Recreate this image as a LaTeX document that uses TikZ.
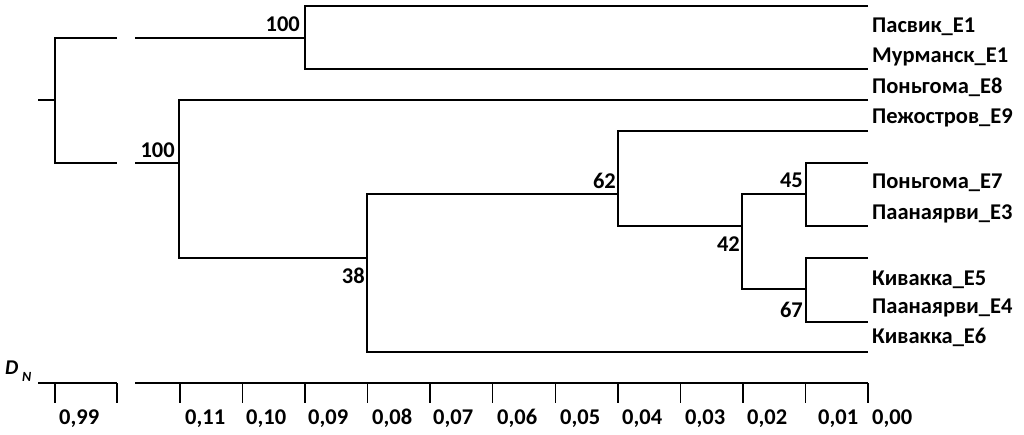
\documentclass[tikz,border=0pt]{standalone}
\usepackage{fontspec}
\setmainfont{Carlito}
\begin{document}
\begin{tikzpicture}[x=1pt,y=-1pt,
  br/.style={draw=black,line width=1.4pt},
  leaf/.style={anchor=base west,inner sep=0pt,font=\fontsize{22.5}{26}\selectfont\bfseries},
  boot/.style={anchor=base east,inner sep=0pt,font=\fontsize{22.5}{26}\selectfont\bfseries},
  tick/.style={anchor=base west,inner sep=0pt,font=\fontsize{22.5}{26}\selectfont\bfseries}]
\useasboundingbox (0,0) rectangle (1024,434);
% leaf ends
\coordinate (l1) at (868,6);
\coordinate (l2) at (868,69);
\coordinate (l3) at (868,100);
\coordinate (l4) at (868,131);
\coordinate (l5) at (868,163);
\coordinate (l6) at (868,226);
\coordinate (l7) at (868,258);
\coordinate (l8) at (868,322);
\coordinate (l9) at (868,352);
% internal nodes
\coordinate (r0) at (38,100);
\coordinate (r) at (55,100);
\coordinate (bA1) at (117,38);
\coordinate (bA2) at (135,38);
\coordinate (bB1) at (117,163);
\coordinate (bB2) at (135,163);
\coordinate (n1) at (305,38);
\coordinate (n2) at (179,163);
\coordinate (n3) at (367,258);
\coordinate (n4) at (618,194);
\coordinate (n5) at (742,226);
\coordinate (n6) at (806,194);
\coordinate (n7) at (806,289);
% branches
\draw[br] (r0) -- (r);
\draw[br] (bA1) -| (r) |- (bB1);
\draw[br] (bA2) -- (n1);
\draw[br] (bB2) -- (n2);
\draw[br] (l1) -| (n1) |- (l2);
\draw[br] (l3) -| (n2) |- (n3);
\draw[br] (n4) -| (n3) |- (l9);
\draw[br] (l4) -| (n4) |- (n5);
\draw[br] (n6) -| (n5) |- (n7);
\draw[br] (l5) -| (n6) |- (l6);
\draw[br] (l7) -| (n7) |- (l8);
% leaf labels
\node[leaf] (t1) at (872,32) {Пасвик\_E1};
\node[leaf] (t2) at (872,62) {Мурманск\_E1};
\node[leaf] (t3) at (872,93) {Поньгома\_E8};
\node[leaf] (t4) at (872,123) {Пежостров\_E9};
\node[leaf] (t5) at (872,188) {Поньгома\_E7};
\node[leaf] (t6) at (872,219) {Паанаярви\_E3};
\node[leaf] (t7) at (872,285) {Кивакка\_E5};
\node[leaf] (t8) at (872,313) {Паанаярви\_E4};
\node[leaf] (t9) at (872,343) {Кивакка\_E6};
% bootstrap
\node[boot] (b1) at (300,31) {100};
\node[boot] (b2) at (175,157) {100};
\node[boot] (b3) at (616,188) {62};
\node[boot] (b4) at (365,283) {38};
\node[boot] (b5) at (740,251) {42};
\node[boot] (b6) at (803,187) {45};
\node[boot] (b7) at (803,317) {67};
% axis
\coordinate (aL0) at (38,383);
\coordinate (aL1) at (117,383);
\coordinate (aR0) at (135,383);
\coordinate (aR1) at (868,383);
\draw[br] (aL0) -- (aL1);
\draw[br] (aR0) -- (aR1);
\foreach \x in {55,117} \draw[br] (\x,383) -- (\x,403);
\foreach \i in {0,...,11} \draw[br] ({868-62.55*\i},383) -- ({868-62.55*\i},403);
\node[tick] (x99) at (59,424) {0,99};
\node[tick] (x11) at (185,424) {0,11};
\node[tick] (x10) at (246,424) {0,10};
\node[tick] (x09) at (308,424) {0,09};
\node[tick] (x08) at (372,424) {0,08};
\node[tick] (x07) at (433,424) {0,07};
\node[tick] (x06) at (497,424) {0,06};
\node[tick] (x05) at (560,424) {0,05};
\node[tick] (x04) at (622,424) {0,04};
\node[tick] (x03) at (685,424) {0,03};
\node[tick] (x02) at (747,424) {0,02};
\node[tick] (x01) at (818,424) {0,01};
\node[tick] (x00) at (872,424) {0,00};
\node[anchor=base west,inner sep=0pt,font=\fontsize{21}{24}\selectfont\bfseries\itshape] (dn) at (5,374) {D};
\node[anchor=base west,inner sep=0pt,font=\fontsize{14}{16}\selectfont\bfseries\itshape] (dnn) at (22,381) {N};
\end{tikzpicture}
\end{document}
